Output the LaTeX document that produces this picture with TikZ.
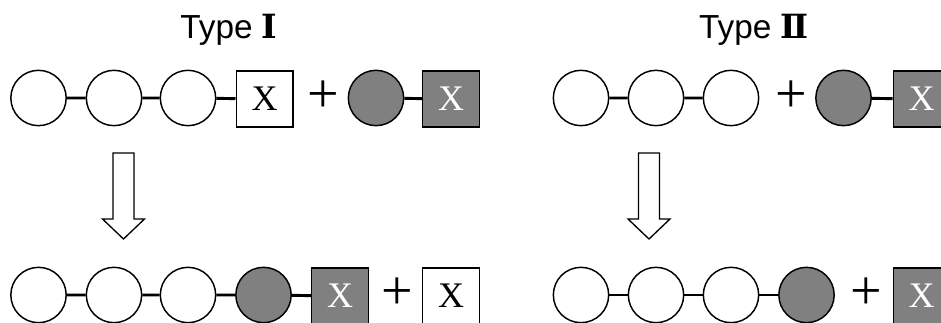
\documentclass[tikz,border=0pt]{standalone}
\usepackage{fontspec}
\setmainfont{Liberation Serif}
\newfontfamily\titlefont{Liberation Sans}
\newfontfamily\numfont{DejaVu Serif}
\usetikzlibrary{positioning}
\definecolor{shade}{RGB}{128,128,128}

\begin{document}
\begin{tikzpicture}
    [x=0.75pt,y=-0.75pt,
     unit/.style={circle,draw,line width=1.1pt,minimum size=41.5pt,inner sep=0pt},
     free/.style={unit,fill=white},
     dark/.style={unit,fill=shade},
     grp/.style={rectangle,draw,line width=1pt,minimum width=42.5pt,minimum height=42pt,
       inner sep=0pt,font=\fontsize{27}{27}\selectfont},
     xw/.style={grp,fill=white},
     xd/.style={grp,fill=shade,text=white},
     plus/.style={inner sep=0pt,font=\fontsize{42}{42}\selectfont},
     bond/.style={line width=2.2pt},
     hollow/.style={draw,line width=1pt,fill=white,line join=miter},
     title/.style={anchor=base,inner sep=0pt,font=\titlefont\fontsize{25}{25}\selectfont}]
    \clip (0,0) rectangle (941,323);

    \node (t1) at (229,39) [title] {Type {\numfont\bfseries Ⅰ}};
    \node (t2) at (754,39) [title] {Type {\numfont\bfseries Ⅱ}};

    % type I, before
    \foreach \i/\x in {1/38.5,2/114,3/188}
      \node (a\i) at (\x,98) [free] {};
    \node (a4) at (264.5,99) [xw] {X};
    \node (a5) at (323,97) [plus] {+};
    \node (a6) at (376,98) [dark] {};
    \node (a7) at (451,99) [xd] {X};
    \draw[bond] (a1) -- (a2) (a2) -- (a3) (a3) -- (a4) (a6) -- (a7);

    % type I, after
    \foreach \i/\x in {1/38.5,2/114,3/188}
      \node (b\i) at (\x,295) [free] {};
    \node (b4) at (263.5,295) [dark] {};
    \node (b5) at (340,296) [xd] {X};
    \node (b6) at (397,294) [plus] {+};
    \node (b7) at (451,296) [xw] {X};
    \draw[bond] (b1) -- (b2) (b2) -- (b3) (b3) -- (b4) (b4) -- (b5);

    % type II, before
    \foreach \i/\x in {1/581,2/656,3/731}
      \node (c\i) at (\x,98) [free] {};
    \node (c4) at (791,97) [plus] {+};
    \node (c5) at (843.5,98) [dark] {};
    \node (c6) at (921.5,99) [xd] {X};
    \draw[bond] (c1) -- (c2) (c2) -- (c3) (c5) -- (c6);

    % type II, after
    \foreach \i/\x in {1/581,2/656,3/731}
      \node (d\i) at (\x,295) [free] {};
    \node (d4) at (806.5,295) [dark] {};
    \node (d5) at (866,294) [plus] {+};
    \node (d6) at (921.5,296) [xd] {X};
    \draw[bond] (d1) -- (d2) (d2) -- (d3) (d3) -- (d4);

    % reaction arrows
    \foreach \x in {123.5,649}
      \draw[hollow] (\x,153) ++(-10.5,0) -- ++(21,0) -- ++(0,66) -- ++(10.5,0)
        -- ++(-21,20) -- ++(-21,-20) -- ++(10.5,0) -- cycle;
\end{tikzpicture}
\end{document}
